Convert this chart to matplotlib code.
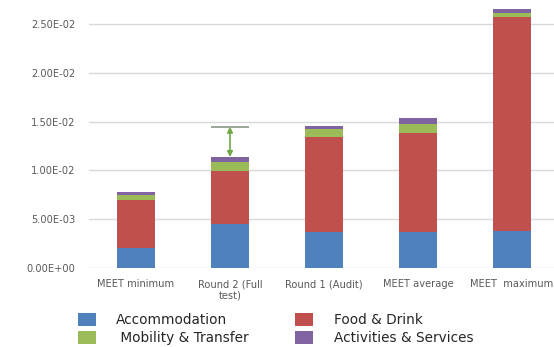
import matplotlib
matplotlib.use("Agg")
import matplotlib.pyplot as plt
import numpy as np
from matplotlib.patches import Patch

categories = ["MEET minimum", "Round 2 (Full\ntest)", "Round 1 (Audit)", "MEET average", "MEET  maximum"]
accommodation = [0.00205, 0.00451, 0.00372, 0.00372, 0.00382]
food_drink = [0.00492, 0.00543, 0.00970, 0.01008, 0.02187]
mobility = [0.00051, 0.00092, 0.00082, 0.00095, 0.00047]
activities = [0.00031, 0.00051, 0.00031, 0.00059, 0.00038]
err_category = 1
err_top = 0.01448
yticks = [0.0, 0.005, 0.010, 0.015, 0.020, 0.025]
ytick_labels = ["0.00E+00", "5.00E-03", "1.00E-02", "1.50E-02", "2.00E-02", "2.50E-02"]

series = [
    ("Accommodation", accommodation, "#4f81bd"),
    ("Food & Drink", food_drink, "#c0504d"),
    ("Mobility & Transfer", mobility, "#9bbb59"),
    ("Activities & Services", activities, "#8064a2"),
]

W, H = 554, 347
fig = plt.figure(figsize=(W / 100, H / 100), dpi=100)
ax = fig.add_axes([89 / W, (H - 268) / H, 470 / W, 263.5 / H])

x = np.arange(len(categories))
bottom = np.zeros(len(categories))
for name, vals, col in series:
    ax.bar(x, vals, 0.4, bottom=bottom, color=col, zorder=3)
    bottom += np.array(vals)

# error arrow on Round 2
top = bottom[err_category]
ax.annotate("", xy=(err_category, err_top), xytext=(err_category, top),
            arrowprops=dict(arrowstyle="<|-|>", color="#70a848", lw=1.2,
                            mutation_scale=8, shrinkA=0, shrinkB=0), zorder=4)
ax.hlines(err_top, err_category - 0.2, err_category + 0.2, color="#8a9a88", lw=1.2, zorder=4)

ax.set_xlim(-0.5, 4.5)
ax.set_ylim(0, 0.027)
ax.set_yticks(yticks)
ax.set_yticklabels(ytick_labels)
ax.set_xticks(x)
ax.set_xticklabels(categories)
ax.yaxis.grid(True, color="#d9d9d9", lw=1, zorder=0)
for s in ax.spines.values():
    s.set_visible(False)
ax.tick_params(axis="both", length=0, labelcolor="#595959", labelsize=7.1)
ax.tick_params(axis="y", pad=10)
ax.tick_params(axis="x", pad=8)

h = {name: Patch(facecolor=col) for name, _, col in series}
leg1 = fig.legend([h["Accommodation"], h["Mobility & Transfer"]],
                  ["Accommodation", " Mobility & Transfer"],
                  loc="center left", bbox_to_anchor=(78 / W, 1 - 329 / H),
                  frameon=False, fontsize=9.8, borderpad=0, borderaxespad=0,
                  handlelength=1.3, handleheight=1.08, handletextpad=1.5,
                  labelspacing=0.32, labelcolor="#262626")
leg2 = fig.legend([h["Food & Drink"], h["Activities & Services"]],
                  ["Food & Drink", "Activities & Services"],
                  loc="center left", bbox_to_anchor=(295 / W, 1 - 329 / H),
                  frameon=False, fontsize=9.8, borderpad=0, borderaxespad=0,
                  handlelength=1.3, handleheight=1.08, handletextpad=1.6,
                  labelspacing=0.32, labelcolor="#262626")

fig.savefig("out.png", dpi=100)
